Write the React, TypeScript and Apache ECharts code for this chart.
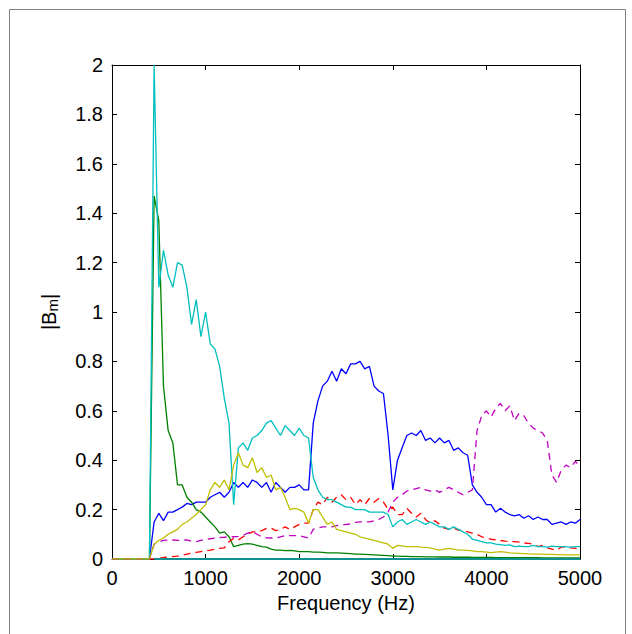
import React, { useEffect, useRef } from "react";
import * as echarts from "echarts";

const freq = [
  0, 50, 100, 150, 200, 250, 300, 350, 400,
  450, 500, 550, 600, 650, 700, 750, 800, 850, 900,
  950, 1000, 1050, 1100, 1150, 1200, 1250, 1300, 1350, 1400,
  1450, 1500, 1550, 1600, 1650, 1700, 1750, 1800, 1850, 1900,
  1950, 2000, 2050, 2100, 2150, 2200, 2250, 2300, 2350, 2400,
  2450, 2500, 2550, 2600, 2650, 2700, 2750, 2800, 2850, 2900,
  2950, 3000, 3050, 3100, 3150, 3200, 3250, 3300, 3350, 3400,
  3450, 3500, 3550, 3600, 3650, 3700, 3750, 3800, 3850, 3900,
  3950, 4000, 4050, 4100, 4150, 4200, 4250, 4300, 4350, 4400,
  4450, 4500, 4550, 4600, 4650, 4700, 4750, 4800, 4850, 4900,
  4950, 5000,
];

const blueSeries = [
  0, 0, 0, 0, 0, 0, 0, 0, 0,
  0.15, 0.185, 0.155, 0.19, 0.19, 0.2, 0.21, 0.225, 0.22, 0.23,
  0.23, 0.23, 0.25, 0.26, 0.27, 0.25, 0.27, 0.31, 0.29, 0.31,
  0.29, 0.32, 0.31, 0.29, 0.31, 0.27, 0.31, 0.29, 0.27, 0.29,
  0.29, 0.3, 0.28, 0.28, 0.55, 0.64, 0.7, 0.72, 0.76, 0.72,
  0.77, 0.75, 0.79, 0.79, 0.8, 0.77, 0.78, 0.7, 0.68, 0.67,
  0.5, 0.28, 0.4, 0.45, 0.5, 0.51, 0.5, 0.52, 0.48, 0.49,
  0.47, 0.49, 0.47, 0.48, 0.44, 0.45, 0.43, 0.42, 0.3, 0.27,
  0.25, 0.22, 0.22, 0.19, 0.205, 0.19, 0.18, 0.175, 0.18, 0.165,
  0.175, 0.16, 0.17, 0.16, 0.16, 0.14, 0.145, 0.15, 0.14, 0.15,
  0.145, 0.16,
];

const greenSeries = [
  0, 0, 0, 0, 0, 0, 0, 0, 0,
  1.47, 1.37, 0.7, 0.52, 0.47, 0.3, 0.3, 0.25, 0.23, 0.2,
  0.19, 0.17, 0.15, 0.13, 0.105, 0.11, 0.09, 0.05, 0.055, 0.06,
  0.062, 0.06, 0.055, 0.05, 0.048, 0.04, 0.036, 0.036, 0.034, 0.035,
  0.033, 0.03, 0.03, 0.03, 0.028, 0.028, 0.027, 0.025, 0.025, 0.025,
  0.024, 0.023, 0.022, 0.02, 0.02, 0.019, 0.018, 0.017, 0.016, 0.015,
  0.014, 0.012, 0.012, 0.011, 0.011, 0.01, 0.01, 0.01, 0.009, 0.009,
  0.009, 0.008, 0.008, 0.008, 0.007, 0.007, 0.007, 0.007, 0.006, 0.006,
  0.006, 0.006, 0.006, 0.005, 0.005, 0.005, 0.005, 0.005, 0.005, 0.005,
  0.005, 0.005, 0.005, 0.004, 0.004, 0.004, 0.004, 0.004, 0.004, 0.004,
  0.004, 0.004,
];

const redSeries = [
  0, 0, 0, 0, 0, 0, 0, 0, 0,
  0, 0.003, 0.006, 0.008, 0.01, 0.012, 0.015, 0.02, 0.023, 0.027,
  0.03, 0.033, 0.036, 0.04, 0.043, 0.045, 0.07, 0.084, 0.077, 0.09,
  0.1, 0.11, 0.11, 0.115, 0.124, 0.125, 0.115, 0.12, 0.13, 0.12,
  0.13, 0.14, 0.145, 0.145, 0.2, 0.23, 0.22, 0.25, 0.23, 0.25,
  0.26, 0.24, 0.25, 0.22, 0.24, 0.22, 0.245, 0.23, 0.245, 0.23,
  0.2, 0.21, 0.18, 0.18, 0.205, 0.185, 0.17, 0.185, 0.16, 0.145,
  0.155, 0.14, 0.125, 0.12, 0.125, 0.117, 0.115, 0.11, 0.105, 0.1,
  0.09, 0.085, 0.08, 0.077, 0.075, 0.072, 0.07, 0.07, 0.068, 0.065,
  0.063, 0.06, 0.05, 0.055, 0.045, 0.04, 0.036, 0.048, 0.05, 0.045,
  0.043, 0.04,
];

const cyanSeries = [
  0, 0, 0, 0, 0, 0, 0, 0, 0,
  2.0, 1.1, 1.25, 1.15, 1.1, 1.2, 1.19, 1.1, 0.95, 1.05,
  0.9, 1.0, 0.87, 0.85, 0.78, 0.65, 0.55, 0.22, 0.45, 0.47,
  0.44, 0.49, 0.5, 0.52, 0.55, 0.56, 0.53, 0.5, 0.54, 0.52,
  0.5, 0.53, 0.5, 0.49, 0.33, 0.28, 0.25, 0.24, 0.24, 0.23,
  0.22, 0.21, 0.21, 0.2, 0.2, 0.2, 0.19, 0.19, 0.19, 0.19,
  0.18, 0.13, 0.15, 0.16, 0.14, 0.15, 0.16, 0.15, 0.14, 0.15,
  0.14, 0.13, 0.13, 0.12, 0.13, 0.12, 0.11, 0.1, 0.08, 0.075,
  0.07, 0.065, 0.065, 0.06, 0.058, 0.055, 0.057, 0.05, 0.052, 0.05,
  0.05, 0.055, 0.05, 0.05, 0.048, 0.052, 0.05, 0.05, 0.05, 0.048,
  0.05, 0.05,
];

const magentaSeries = [
  0, 0, 0, 0, 0, 0, 0, 0, 0,
  0.06, 0.07, 0.075, 0.077, 0.077, 0.075, 0.077, 0.077, 0.072, 0.07,
  0.075, 0.08, 0.082, 0.085, 0.087, 0.088, 0.09, 0.09, 0.092, 0.095,
  0.105, 0.11, 0.1, 0.09, 0.086, 0.085, 0.085, 0.09, 0.095, 0.095,
  0.095, 0.094, 0.09, 0.085, 0.12, 0.125, 0.13, 0.13, 0.13, 0.135,
  0.137, 0.14, 0.142, 0.148, 0.15, 0.15, 0.15, 0.155, 0.16, 0.17,
  0.19, 0.23, 0.25, 0.26, 0.275, 0.28, 0.285, 0.29, 0.28, 0.275,
  0.28, 0.27, 0.28, 0.29, 0.28, 0.27, 0.26, 0.27, 0.28, 0.52,
  0.58, 0.6, 0.575, 0.61, 0.63, 0.6, 0.62, 0.56, 0.59, 0.58,
  0.55, 0.53, 0.52, 0.51, 0.48, 0.34, 0.31, 0.36, 0.38, 0.37,
  0.395, 0.375,
];

const yellowSeries = [
  0, 0, 0, 0, 0, 0, 0, 0, 0,
  0.06, 0.075, 0.085, 0.1, 0.11, 0.12, 0.14, 0.15, 0.165, 0.18,
  0.2, 0.22, 0.28, 0.31, 0.29, 0.32, 0.28, 0.38, 0.43, 0.38,
  0.37, 0.41, 0.35, 0.37, 0.33, 0.34, 0.28, 0.29, 0.25, 0.2,
  0.205, 0.2, 0.19, 0.145, 0.2, 0.2, 0.17, 0.14, 0.15, 0.12,
  0.115, 0.11, 0.105, 0.1, 0.09, 0.085, 0.08, 0.075, 0.07, 0.065,
  0.06, 0.043, 0.055, 0.053, 0.05, 0.05, 0.05, 0.048, 0.047, 0.045,
  0.04, 0.036, 0.04, 0.043, 0.04, 0.036, 0.036, 0.035, 0.033, 0.03,
  0.03, 0.028, 0.026, 0.028, 0.03, 0.028, 0.025, 0.024, 0.023, 0.022,
  0.021, 0.02, 0.02, 0.02, 0.019, 0.019, 0.018, 0.018, 0.017, 0.017,
  0.017, 0.017,
];

const FONT = "'Liberation Sans', Arial, Helvetica, sans-serif";

function pairs(vals: number[]) {
  return freq.map((f, i) => [f, vals[i]]);
}

export default function App() {
  const ref = useRef<HTMLDivElement>(null);
  useEffect(() => {
    if (!ref.current) return;
    const chart = echarts.init(ref.current, null, { renderer: "svg" });
    const axisCommon = {
      axisLine: { show: true, onZero: false, lineStyle: { color: "#000", width: 1 } },
      axisTick: { show: true, inside: true, length: 5, lineStyle: { color: "#000", width: 1 } },
      splitLine: { show: false },
    };
    const lineSeries = (name: string, vals: number[], color: string, dashed: boolean, extra: any = {}) => ({
      name,
      type: "line",
      xAxisIndex: 0,
      yAxisIndex: 0,
      data: pairs(vals),
      showSymbol: false,
      symbol: "none",
      smooth: false,
      lineStyle: { color, width: 1.3, type: dashed ? [7, 5] : "solid" },
      itemStyle: { color },
      emphasis: { disabled: true },
      silent: true,
      ...extra,
    });
    chart.setOption({
      animation: false,
      backgroundColor: "#fff",
      textStyle: { fontFamily: FONT },
      graphic: [
        {
          type: "rect",
          shape: { x: 9.5, y: 9.5, width: 616, height: 640 },
          style: { fill: "none", stroke: "#808080", lineWidth: 1 },
          silent: true,
        },
      ],
      grid: { left: 112, right: 52, top: 65, bottom: 75, containLabel: false },
      xAxis: [
        {
          type: "value",
          min: 0,
          max: 5000,
          interval: 1000,
          position: "bottom",
          ...axisCommon,
          axisLabel: {
            show: true,
            color: "#000",
            fontSize: 20,
            fontFamily: FONT,
            margin: 9,
            formatter: (v: number) => String(v),
          },
          name: "Frequency (Hz)",
          nameLocation: "middle",
          nameGap: 34,
          nameTextStyle: { color: "#000", fontSize: 20, fontFamily: FONT },
        },
        {
          type: "value",
          min: 0,
          max: 5000,
          interval: 1000,
          position: "top",
          ...axisCommon,
          axisLabel: { show: false },
        },
      ],
      yAxis: [
        {
          type: "value",
          min: 0,
          max: 2,
          interval: 0.2,
          position: "left",
          ...axisCommon,
          axisLabel: {
            show: true,
            color: "#000",
            fontSize: 20,
            fontFamily: FONT,
            margin: 9,
            formatter: (v: number) => String(Math.round(v * 10) / 10),
          },
          name: "|B{m|m}|",
          nameLocation: "middle",
          nameRotate: 90,
          nameGap: 52,
          nameTextStyle: {
            color: "#000",
            fontSize: 20,
            fontFamily: FONT,
            rich: { m: { fontSize: 15, fontFamily: FONT, color: "#000", verticalAlign: "bottom", padding: [8, 0, 0, 0] } },
          },
        },
        {
          type: "value",
          min: 0,
          max: 2,
          interval: 0.2,
          position: "right",
          ...axisCommon,
          axisLabel: { show: false },
        },
      ],
      series: [
        lineSeries("blue", blueSeries, "#0000ff", false),
        lineSeries("green", greenSeries, "#008000", false),
        lineSeries("red", redSeries, "#ff0000", true),
        lineSeries("cyan", cyanSeries, "#00bfbf", false, {
          markLine: {
            silent: true,
            symbol: "none",
            label: { show: false },
            lineStyle: { color: "#109090", width: 2, type: "solid" },
            data: [[{ coord: [450, 0] }, { coord: [5000, 0] }]],
          },
        }),
        lineSeries("magenta", magentaSeries, "#bf00bf", true),
        lineSeries("yellow", yellowSeries, "#bfbf00", false),
      ],
    });
    return () => chart.dispose();
  }, []);
  return (
    <div
      ref={ref}
      style={{ position: "fixed", left: 0, top: 0, width: 632, height: 634, background: "#fff" }}
    />
  );
}
